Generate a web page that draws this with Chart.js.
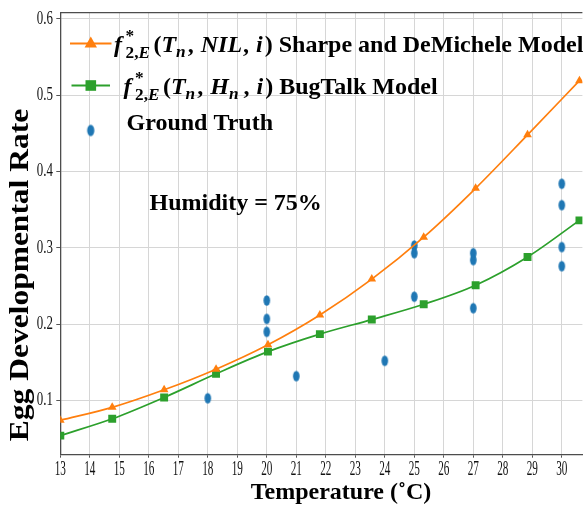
<!DOCTYPE html>
<html>
<head>
<meta charset="utf-8">
<script src="https://cdn.jsdelivr.net/npm/chart.js@4/dist/chart.umd.min.js"></script>
<style>
  html, body { margin: 0; padding: 0; background: #fff; }
  #wrap { width: 588px; height: 506px; }
</style>
</head>
<body>
<div id="wrap"><canvas id="c" width="588" height="506"></canvas></div>
<script>
// Temperatures at which both models are evaluated (°C)
const modelTemps = [13, 14.76, 16.52, 18.28, 20.04, 21.8, 23.56, 25.32, 27.08, 28.84, 30.6];
// Sharpe and DeMichele model (temperature only)
const sharpeRates = [0.074, 0.091, 0.114, 0.141, 0.173, 0.212, 0.259, 0.314, 0.378, 0.448, 0.519];
// BugTalk model (temperature and humidity)
const bugtalkRates = [0.054, 0.076, 0.104, 0.135, 0.164, 0.187, 0.206, 0.226, 0.251, 0.288, 0.336];
// Observed egg development rates
const obsTemps = [18, 20, 20, 20, 21, 24, 25, 25, 25, 27, 27, 27, 30, 30, 30, 30];
const obsRates = [0.103, 0.231, 0.207, 0.190, 0.132, 0.152, 0.303, 0.293, 0.236, 0.293, 0.284, 0.221, 0.384, 0.356, 0.301, 0.276];
// Axis ticks
const xTickValues = [13, 14, 15, 16, 17, 18, 19, 20, 21, 22, 23, 24, 25, 26, 27, 28, 29, 30];
const yTickValues = [0.1, 0.2, 0.3, 0.4, 0.5, 0.6];

const ORANGE = '#ff7f0e', GREEN = '#2ca02c', BLUE = '#1f77b4';
const SERIF = '"Liberation Serif", "Times New Roman", serif';

// Tall elliptical marker for the observations
function ellipseMarker(rx, ry) {
  const c = document.createElement('canvas');
  c.width = Math.ceil(rx * 2) + 2; c.height = Math.ceil(ry * 2) + 2;
  const g = c.getContext('2d');
  g.fillStyle = BLUE;
  g.beginPath();
  g.ellipse(c.width / 2, c.height / 2, rx, ry, 0, 0, Math.PI * 2);
  g.fill();
  return c;
}
const obsMarker = ellipseMarker(3.3, 5.2);
const obsLegendMarker = ellipseMarker(3.6, 5.8);

// Horizontally condensed text
function squeezedText(ctx, text, x, y, font, sx, align) {
  ctx.save();
  ctx.font = font;
  ctx.textBaseline = 'middle';
  ctx.textAlign = 'left';
  const w = ctx.measureText(text).width * sx;
  const left = align === 'right' ? x - w : align === 'center' ? x - w / 2 : x;
  ctx.translate(left, y);
  ctx.scale(sx, 1);
  ctx.fillStyle = '#111';
  ctx.fillText(text, 0, 0);
  ctx.restore();
}

// Rich text run: [text, italic?, sizeFactor, shift, stackWithPrev?, extraGapAfter]
function richText(ctx, x, base, size, runs) {
  ctx.save();
  ctx.fillStyle = '#000';
  ctx.textBaseline = 'alphabetic';
  ctx.textAlign = 'left';
  let cx = x, stackX = x, lastW = 0;
  for (const r of runs) {
    const [t, it, sf, shift, stack, gap] = r;
    const fs = size * sf;
    ctx.font = (it ? 'italic ' : '') + 'bold ' + fs + 'px ' + SERIF;
    const w = ctx.measureText(t).width;
    if (stack) {
      ctx.fillText(t, stackX, base + shift * size);
      const nw = Math.max(lastW, w);
      cx = stackX + nw;
      lastW = nw;
    } else {
      stackX = cx;
      ctx.fillText(t, cx, base + shift * size);
      cx += w;
      lastW = w;
    }
    cx += gap || 0;
  }
  ctx.restore();
  return cx;
}

function mathPrefix(second) {
  return [
    ['f', true, 1, 0, false, 3.5],
    ['*', false, 0.72, -0.42, false],
    ['2,', false, 0.72, 0.28, true],
    ['E', true, 0.72, 0.28, false, 3.5],
    ['(', false, 1, 0, false],
    ['T', true, 1, 0, false],
    ['n', true, 0.72, 0.22, false, 2],
    [',', false, 1, 0, false, 7],
    [second[0], true, 1, 0, false, second[1] ? 0 : 1],
    ...(second[1] ? [[second[1], true, 0.72, 0.22, false, 5]] : []),
    [',', false, 1, 0, false, 7],
    ['i', true, 1, 0, false, 2],
    [')', false, 1, 0, false]
  ];
}

const decorations = {
  id: 'decorations',
  afterDraw(chart) {
    const { ctx, chartArea: a, scales } = chart;
    const xs = scales.x, ys = scales.y;

    // top frame line
    ctx.save();
    ctx.strokeStyle = '#4d4d4d';
    ctx.lineWidth = 1.3;
    ctx.beginPath();
    ctx.moveTo(a.left, a.top);
    ctx.lineTo(a.right, a.top);
    ctx.stroke();
    ctx.restore();

    // tick labels
    xs.ticks.forEach(t => {
      squeezedText(ctx, String(t.value), xs.getPixelForValue(t.value), a.bottom + 15.5, '20px ' + SERIF, 0.56, 'center');
    });
    ys.ticks.forEach(t => {
      squeezedText(ctx, t.value.toFixed(1), 53, ys.getPixelForValue(t.value), '19px ' + SERIF, 0.68, 'right');
    });

    // axis titles
    ctx.save();
    ctx.fillStyle = '#000';
    ctx.font = 'bold 24px ' + SERIF;
    ctx.textAlign = 'center';
    ctx.textBaseline = 'middle';
    ctx.fillText('Temperature (\u02DAC)', 341, 493);
    ctx.translate(20.5, 275);
    ctx.rotate(-Math.PI / 2);
    ctx.scale(1, 0.86);
    ctx.font = 'bold 31.5px ' + SERIF;
    ctx.fillText('Egg Developmental Rate', 0, 0);
    ctx.restore();

    // legend
    ctx.save();
    ctx.lineWidth = 2;
    ctx.strokeStyle = ORANGE;
    ctx.beginPath(); ctx.moveTo(70, 43.5); ctx.lineTo(111.5, 43.5); ctx.stroke();
    ctx.fillStyle = ORANGE;
    ctx.beginPath();
    ctx.moveTo(90.8, 36.5); ctx.lineTo(97, 47.5); ctx.lineTo(84.6, 47.5); ctx.closePath(); ctx.fill();
    ctx.strokeStyle = GREEN;
    ctx.beginPath(); ctx.moveTo(71.5, 85.5); ctx.lineTo(110, 85.5); ctx.stroke();
    ctx.fillStyle = GREEN;
    ctx.fillRect(85.5, 80.2, 10.6, 10.6);
    ctx.drawImage(obsLegendMarker, 90.7 - obsLegendMarker.width / 2, 130.5 - obsLegendMarker.height / 2);
    ctx.restore();

    const S = 24;
    let x1 = richText(ctx, 114, 51.5, S, mathPrefix(['NIL', null]));
    richText(ctx, x1, 51.5, S, [[' Sharpe and DeMichele Model', false, 1, 0, false]]);
    let x2 = richText(ctx, 123.5, 93.5, S, mathPrefix(['H', 'n']));
    richText(ctx, x2, 93.5, S, [[' BugTalk Model', false, 1, 0, false]]);
    richText(ctx, 126.5, 130, S, [['Ground Truth', false, 1, 0, false]]);

    // condition note
    richText(ctx, 149.5, 210, S, [['Humidity = 75%', false, 1, 0, false]]);
  }
};

new Chart(document.getElementById('c'), {
  type: 'line',
  data: {
    datasets: [
      {
        label: 'Sharpe and DeMichele Model',
        data: modelTemps.map((t, i) => ({ x: t, y: sharpeRates[i] })),
        borderColor: ORANGE, backgroundColor: ORANGE,
        borderWidth: 1.7, pointStyle: 'triangle', pointRadius: 5, pointBorderWidth: 0,
        cubicInterpolationMode: 'monotone', clip: 0
      },
      {
        label: 'BugTalk Model',
        data: modelTemps.map((t, i) => ({ x: t, y: bugtalkRates[i] })),
        borderColor: GREEN, backgroundColor: GREEN,
        borderWidth: 1.7, pointStyle: 'rect', pointRadius: 5.6, pointBorderWidth: 0,
        cubicInterpolationMode: 'monotone', clip: 0
      },
      {
        label: 'Ground Truth',
        type: 'scatter',
        data: obsTemps.map((t, i) => ({ x: t, y: obsRates[i] })),
        pointStyle: obsMarker, showLine: false, clip: 0
      }
    ]
  },
  options: {
    responsive: false,
    animation: false,
    devicePixelRatio: 1,
    layout: { padding: { left: 56.3, right: 0, top: 12.7, bottom: 48.3 } },
    plugins: { legend: { display: false }, tooltip: { enabled: false } },
    scales: {
      x: {
        type: 'linear', min: 13, max: 30.7,
        afterBuildTicks: s => { s.ticks = xTickValues.map(v => ({ value: v })); },
        ticks: { display: false },
        grid: { color: '#d6d6d6', lineWidth: 1, tickLength: 3, tickColor: '#555' },
        border: { color: '#4d4d4d', width: 1.3 }
      },
      y: {
        type: 'linear', min: 0.029, max: 0.608,
        afterBuildTicks: s => { s.ticks = yTickValues.map(v => ({ value: v })); },
        ticks: { display: false },
        grid: { color: '#d6d6d6', lineWidth: 1, tickLength: 4, tickColor: '#555' },
        border: { color: '#4d4d4d', width: 1.3 }
      }
    }
  },
  plugins: [decorations]
});
</script>
</body>
</html>
